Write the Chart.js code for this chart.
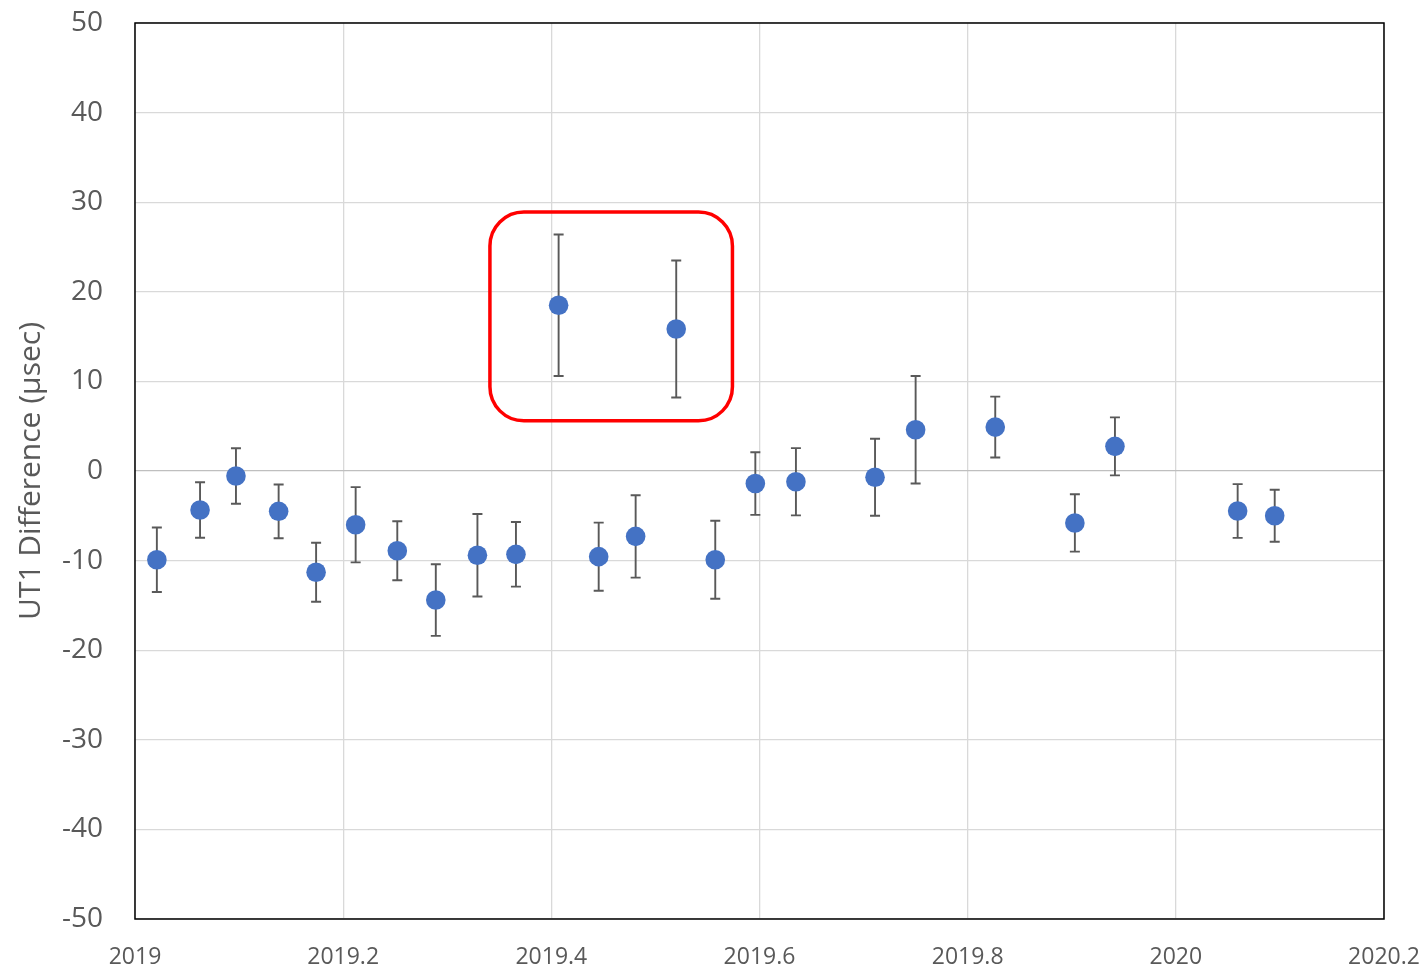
<!DOCTYPE html>
<html>
<head>
<meta charset="utf-8">
<script src="https://cdn.jsdelivr.net/npm/chart.js@4"></script>
<style>
    body { margin: 0; background: #fff; }
    #wrap { width: 1426px; height: 968px; }
</style>
</head>
<body>
<div id="wrap"><canvas id="myChart" width="1426" height="968"></canvas></div>
<script>
// data
var years = [2019.021, 2019.0625, 2019.097, 2019.138, 2019.174, 2019.212, 2019.252, 2019.289, 2019.329, 2019.366,
    2019.407, 2019.4455, 2019.481, 2019.52, 2019.5575, 2019.596, 2019.635, 2019.711, 2019.75,
    2019.8265, 2019.903, 2019.9415, 2020.0594, 2020.095];
var diffs = [-9.9, -4.35, -0.56, -4.5, -11.3, -6.0, -8.9, -14.4, -9.4, -9.3,
    18.5, -9.56, -7.3, 15.85, -9.9, -1.4, -1.2, -0.7, 4.6,
    4.9, -5.8, 2.75, -4.46, -5.0];
var errs = [3.6, 3.1, 3.1, 3.0, 3.3, 4.2, 3.3, 4.0, 4.6, 3.6,
    7.9, 3.8, 4.6, 7.65, 4.35, 3.5, 3.75, 4.3, 6.0,
    3.4, 3.2, 3.24, 3.0, 2.9];
// highlighted box (x from, x to, y top, y bottom)
var boxX = [2019.341, 2019.574];
var boxY = [28.9, 5.6];

var points = years.map(function(x, i) {
    return { x: x, y: diffs[i] };
});

// error bars, frame and red box
var extras = {
    id: 'extras',
    beforeDatasetsDraw: function(chart) {
        var c = chart.ctx;
        var xs = chart.scales.x, ys = chart.scales.y;
        c.save();
        c.strokeStyle = '#595959';
        c.lineWidth = 1.9;
        for (var i = 0; i < years.length; i++) {
            var px = xs.getPixelForValue(years[i]);
            var top = ys.getPixelForValue(diffs[i] + errs[i]);
            var bot = ys.getPixelForValue(diffs[i] - errs[i]);
            c.beginPath();
            c.moveTo(px, top); c.lineTo(px, bot);
            c.moveTo(px - 5, top); c.lineTo(px + 5, top);
            c.moveTo(px - 5, bot); c.lineTo(px + 5, bot);
            c.stroke();
        }
        c.restore();
    },
    afterDraw: function(chart) {
        var c = chart.ctx;
        var a = chart.chartArea;
        var xs = chart.scales.x, ys = chart.scales.y;
        c.save();
        c.strokeStyle = '#000';
        c.lineWidth = 1.5;
        c.strokeRect(a.left, a.top, a.right - a.left, a.bottom - a.top);
        var x1 = xs.getPixelForValue(boxX[0]), x2 = xs.getPixelForValue(boxX[1]);
        var y1 = ys.getPixelForValue(boxY[0]), y2 = ys.getPixelForValue(boxY[1]);
        c.strokeStyle = '#ff0000';
        c.lineWidth = 3.5;
        c.beginPath();
        c.roundRect(x1, y1, x2 - x1, y2 - y1, 34);
        c.stroke();
        c.restore();
    }
};

var ctx = document.getElementById('myChart').getContext('2d');
var chart = new Chart(ctx, {
    type: 'scatter',
    data: {
        datasets: [{
            label: 'UT1',
            data: points,
            backgroundColor: '#4472c4',
            borderWidth: 0,
            pointRadius: 9.8,
            pointHoverRadius: 9.8
        }]
    },
    options: {
        responsive: false,
        animation: false,
        layout: { padding: { top: 23, right: 42, left: 0, bottom: 0 } },
        plugins: { legend: { display: false }, tooltip: { enabled: false } },
        scales: {
            x: {
                type: 'linear',
                min: 2019,
                max: 2020.2,
                // fixed axis height, let labels hang past the plot edge
                afterFit: function(s) { s.height = 49; s.paddingLeft = 0; s.paddingRight = 0; },
                ticks: {
                    stepSize: 0.2,
                    padding: 25,
                    maxRotation: 0,
                    color: '#595959',
                    font: { family: 'Open Sans', size: 23 },
                    callback: function(v) { return Number(v.toFixed(1)).toString(); }
                },
                grid: { color: '#d9d9d9', lineWidth: 1.3, drawTicks: false },
                border: { display: false }
            },
            y: {
                min: -50,
                max: 50,
                afterFit: function(s) { s.width = 135; s.paddingTop = 0; s.paddingBottom = 0; },
                ticks: {
                    stepSize: 10,
                    padding: 32,
                    color: '#595959',
                    font: { family: 'Open Sans', size: 28 }
                },
                grid: {
                    color: function(c) { return c.tick.value === 0 ? '#bfbfbf' : '#d9d9d9'; },
                    lineWidth: 1.3,
                    drawTicks: false
                },
                border: { display: false },
                title: {
                    display: true,
                    text: 'UT1 Difference (µsec)',
                    color: '#595959',
                    padding: { top: 13, bottom: 0 },
                    font: { family: 'Open Sans', size: 30 }
                }
            }
        }
    },
    plugins: [extras]
});
</script>
</body>
</html>
